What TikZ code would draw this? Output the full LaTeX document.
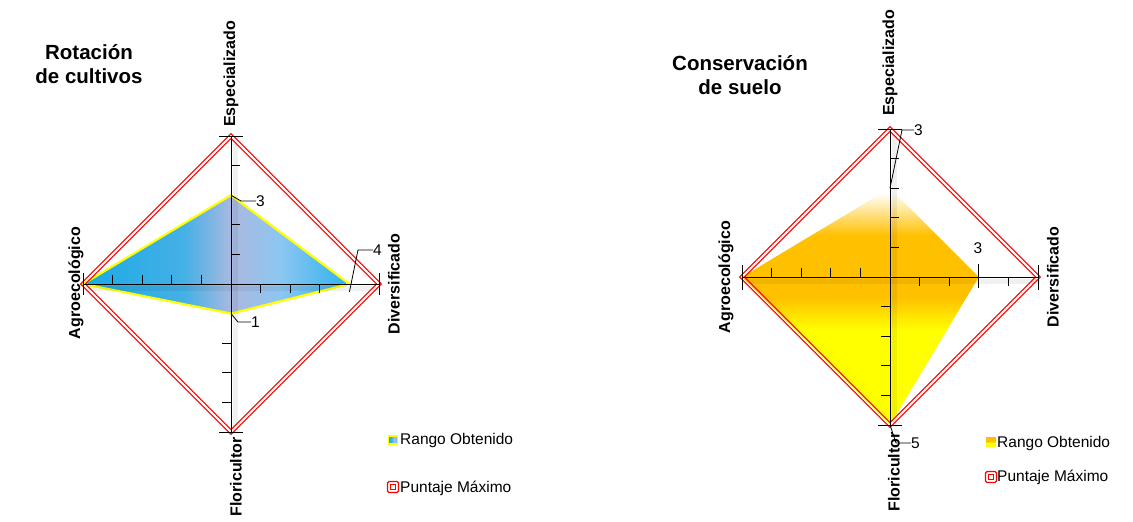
\documentclass[tikz,border=0pt]{standalone}
\usepackage{fontspec}
\setmainfont{Liberation Sans}
\definecolor{bA}{HTML}{1AAAE6}
\definecolor{bB}{HTML}{45B0E6}
\definecolor{bC}{HTML}{AAB9E0}
\definecolor{bD}{HTML}{8CC6F2}
\definecolor{bE}{HTML}{2DB2EC}
\definecolor{orng}{HTML}{FFC000}
\definecolor{ylw}{HTML}{FFFF00}
\pgfdeclarehorizontalshading{blueshade}{100bp}{color(0bp)=(bA); color(25bp)=(bA); color(44bp)=(bB); color(53bp)=(bC); color(62bp)=(bD); color(75bp)=(bE); color(100bp)=(bE)}
\pgfdeclareverticalshading{oyshade}{100bp}{color(0bp)=(ylw); color(25bp)=(ylw); color(45bp)=(ylw); color(52bp)=(orng); color(65bp)=(orng); color(74bp)=(white); color(100bp)=(white)}
\pgfdeclareverticalshading{oylegend}{100bp}{color(0bp)=(ylw); color(25bp)=(ylw); color(45bp)=(ylw); color(55bp)=(orng); color(100bp)=(orng)}
\begin{document}
\begin{tikzpicture}[x=1pt,y=-1pt,
  axisline/.style={draw=black,line width=0.8},
  shadowline/.style={draw=black,opacity=0.06,line width=5},
  tick/.style={draw=black,line width=0.8},
  maxline/.style={draw=red,line width=1.1,line join=miter},
  lbl/.style={font=\bfseries\fontsize{16}{17}\selectfont,rotate=90,inner sep=0},
  num/.style={font=\fontsize{15.5}{17}\selectfont,inner sep=0,anchor=west},
  ttl/.style={font=\bfseries\fontsize{20.5}{24}\selectfont,align=center,inner sep=0},
  legtxt/.style={font=\fontsize{15.5}{17}\selectfont,inner sep=0,anchor=west},
  blueleg/.style={draw=ylw,line width=1.5,shading=blueshade,minimum width=9,minimum height=8,inner sep=0},
  oyleg/.style={draw=none,shading=oylegend,minimum width=10,minimum height=9,inner sep=0},
  redout/.style={draw=red,line width=1.2,rounded corners=1.5,minimum size=11,inner sep=0},
  redin/.style={draw=red,line width=1,minimum size=5,inner sep=0}
]
\useasboundingbox (0,0) rectangle (1133,522);
\fill[white] (0,0) rectangle (1133,522);

% ================= LEFT CHART =================
\coordinate (L-c) at (231,284);
\coordinate (L-n) at (231,136);
\coordinate (L-s) at (231,432);
\coordinate (L-w) at (83,284);
\coordinate (L-e) at (379,284);
\coordinate (L-dn) at (231,195.2);
\coordinate (L-de) at (349.4,284);
\coordinate (L-ds) at (231,313.6);

\shadedraw[shading=blueshade,draw=ylw,line width=2.2,line join=round]
  (L-dn) -- (L-de) -- (L-ds) -- (L-w) -- cycle;

% soft axis shadows
\draw[shadowline] (85,288) -- (381,288);
\draw[shadowline] (235,138) -- (235,434);

% max diamond (double red)
\draw[maxline] (231,133.6) -- (381.4,284) -- (231,434.4) -- (80.6,284) -- cycle;
\draw[maxline] (231,138.4) -- (376.6,284) -- (231,429.6) -- (85.4,284) -- cycle;

% axes
\draw[axisline] (L-w) -- (L-e);
\draw[axisline] (L-n) -- (L-s);
\foreach \k in {1,2,4} \draw[tick] (231,{284-29.6*\k}) -- ++(9,0);
\foreach \k in {2,3,4} \draw[tick] (231,{284+29.6*\k}) -- ++(-9,0);
\foreach \k in {1,2,3,4} \draw[tick] ({231-29.6*\k},284) -- ++(0,-9);
\foreach \k in {1,2,3} \draw[tick] ({231+29.6*\k},284) -- ++(0,9);
\draw[tick] (219,136) -- (243,136);
\draw[tick] (219,432) -- (243,432);
\draw[tick] (379,273) -- (379,295);
\draw[tick] (83,273) -- (83,295);

\node[num] (L-v3) at (256,201) {3};
\draw[tick] (L-dn) -- (241,201) -- (L-v3.west);
\node[num] (L-v4) at (373,250) {4};
\draw[tick] (349.4,292) -- (358,250) -- (L-v4.west);
\node[num] (L-v1) at (251,322) {1};
\draw[tick] (L-ds) -- (238,322) -- (L-v1.west);

\node[lbl] (L-tn) at (231,74) {Especializado};
\node[lbl] (L-te) at (394,284) {Diversificado};
\node[lbl] (L-tw) at (76,283) {Agroecológico};
\node[lbl] (L-ts) at (236,477) {Floricultor};

\node[ttl] (L-title) at (89,64) {Rotación\\de cultivos};

\node[blueleg] (L-m1) at (393,440) {};
\node[legtxt] (L-l1) at (400,440) {Rango Obtenido};
\node[redout] (L-m2) at (393,487) {};
\node[redin] at (L-m2) {};
\node[legtxt] (L-l2) at (400,488) {Puntaje Máximo};

% ================= RIGHT CHART =================
\coordinate (R-c) at (890,277);
\coordinate (R-n) at (890,129);
\coordinate (R-s) at (890,425);
\coordinate (R-w) at (742,277);
\coordinate (R-e) at (1038,277);
\coordinate (R-dn) at (890,188.2);
\coordinate (R-de) at (978.8,277);

\shade[shading=oyshade] (R-dn) -- (R-de) -- (R-s) -- (R-w) -- cycle;

\draw[shadowline] (744,281) -- (1040,281);
\draw[shadowline] (894,131) -- (894,427);

\draw[maxline] (890,126.6) -- (1040.4,277) -- (890,427.4) -- (739.6,277) -- cycle;
\draw[maxline] (890,131.4) -- (1035.6,277) -- (890,422.6) -- (744.4,277) -- cycle;

\draw[axisline] (R-w) -- (R-e);
\draw[axisline] (R-n) -- (R-s);
\foreach \k in {1,2,3,4} \draw[tick] (890,{277-29.6*\k}) -- ++(9,0);
\foreach \k in {1,2,3,4} \draw[tick] (890,{277+29.6*\k}) -- ++(-9,0);
\foreach \k in {1,2,3,4} \draw[tick] ({890-29.6*\k},277) -- ++(0,-9);
\foreach \k in {1,2,4} \draw[tick] ({890+29.6*\k},277) -- ++(0,9);
\draw[tick] (978.8,264) -- (978.8,288);
\draw[tick] (878,129) -- (902,129);
\draw[tick] (878,425) -- (902,425);
\draw[tick] (742,265) -- (742,290);
\draw[tick] (1038,265) -- (1038,290);

\node[num] (R-v3) at (914,130) {3};
\draw[tick] (R-dn) -- (902,130) -- (R-v3.west);
\node[num,anchor=center] (R-v3e) at (978,248) {3};
\node[num] (R-v5) at (911,443) {5};
\draw[tick] (R-s) -- (896,443) -- (R-v5.west);

\node[lbl] (R-tn) at (890,63) {Especializado};
\node[lbl] (R-te) at (1053,277) {Diversificado};
\node[lbl] (R-tw) at (726,277) {Agroecológico};
\node[lbl] (R-ts) at (894,472) {Floricultor};

\node[ttl] (R-title) at (740,75) {Conservación\\de suelo};

\node[oyleg] (R-m1) at (991,442) {};
\node[legtxt] (R-l1) at (997,443) {Rango Obtenido};
\node[redout] (R-m2) at (991,477) {};
\node[redin] at (R-m2) {};
\node[legtxt] (R-l2) at (997,477) {Puntaje Máximo};
\end{tikzpicture}
\end{document}
